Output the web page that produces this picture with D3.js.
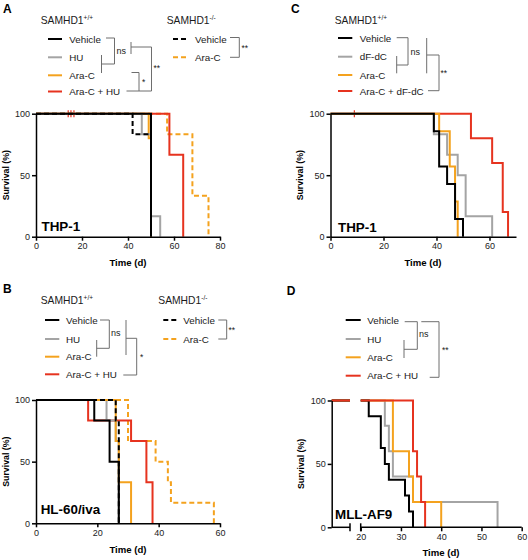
<!DOCTYPE html>
<html><head><meta charset="utf-8">
<script src="https://cdn.jsdelivr.net/npm/d3@7"></script>
<style>
body{margin:0;background:#fff}
text{font-family:Arial,"Liberation Sans",Helvetica,sans-serif}
</style>
</head><body>
<svg id="c" width="528" height="560"></svg>
<script>
// ---------------- DATA ----------------
// Panel A : THP-1 (time in days, survival in %)
const A_veh_t = [0, 50],            A_veh_s = [100, 0];
const A_hu_t = [0, 46, 50, 54],     A_hu_s = [100, 83.3, 16.7, 0];
const A_arac_t = [0, 49, 50],       A_arac_s = [100, 80, 0];
const A_combo_t = [0, 58, 64],      A_combo_s = [100, 66.7, 0];
const A_combo_censor = [14, 15.2, 16.5];
const A_koVeh_t = [0, 42, 50],      A_koVeh_s = [100, 83.3, 0];
const A_koArac_t = [0, 57, 68, 75], A_koArac_s = [100, 83.3, 33.3, 0];
const A_xticks = [0, 20, 40, 60, 80];

// Panel B : HL-60/iva
const B_veh_t = [0, 19, 24, 27],        B_veh_s = [100, 83.3, 50, 0];
const B_hu_t = [0, 23, 26, 27],         B_hu_s = [100, 83.3, 66.7, 0];
const B_arac_t = [0, 26, 27, 31],       B_arac_s = [100, 66.7, 33.3, 0];
const B_combo_t = [0, 17, 31, 36, 38],  B_combo_s = [100, 83.3, 66.7, 33.3, 0];
const B_koVeh_t = [0, 26, 27],          B_koVeh_s = [100, 83.3, 0];
const B_koArac_t = [0, 30, 39, 43, 44, 58], B_koArac_s = [100, 66.7, 50, 33.3, 16.7, 0];
const B_xticks = [0, 20, 40, 60];

// Panel C : THP-1 with dF-dC
const C_veh_t = [0, 39, 41, 44, 47, 50],  C_veh_s = [100, 85.7, 57.1, 42.9, 14.3, 0];
const C_dfdc_t = [0, 39, 44, 48, 51, 61], C_dfdc_s = [100, 83.3, 66.7, 50, 16.7, 0];
const C_arac_t = [0, 41, 45, 47, 48],     C_arac_s = [100, 85.7, 57.1, 28.6, 0];
const C_combo_t = [0, 53, 61, 65, 67],    C_combo_s = [100, 80, 60, 20, 0];
const C_combo_censor = [9];
const C_xticks = [0, 20, 40, 60];

// Panel D : MLL-AF9
const D_veh_t = [0, 22, 25, 26, 27, 31, 32, 33], D_veh_s = [100, 87.5, 62.5, 50, 37.5, 25, 12.5, 0];
const D_hu_t = [0, 26, 27, 28, 33, 54],          D_hu_s = [100, 80, 60, 40, 20, 0];
const D_arac_t = [0, 28, 32, 33, 40],            D_arac_s = [100, 60, 40, 20, 0];
const D_combo_t = [0, 33, 34, 35, 36],           D_combo_s = [100, 60, 40, 20, 0];
const D_xticks = [20, 30, 40, 50, 60];

const yTicks = [0, 50, 100];

// ---------------- STYLE ----------------
const BLACK = "#000000", GRAY = "#a4a4a4", ORANGE = "#f4a21e", RED = "#e6331f";
const BR = "#6e6e6e";
const svg = d3.select("#c");

function drawCurves(g, x, y, series) {
  const line = d3.line().x(d => x(d[0])).y(d => y(d[1])).curve(d3.curveStepAfter);
  series.forEach(sr => {
    const pts = sr.t.map((t, i) => [t, sr.s[i]]);
    g.append("path").attr("d", line(pts)).attr("fill", "none")
      .attr("stroke", sr.color).attr("stroke-width", 2)
      .attr("stroke-dasharray", sr.dash ? "5,3" : null);
    if (sr.censor) sr.censor.forEach(c => {
      g.append("line").attr("x1", x(c)).attr("x2", x(c))
        .attr("y1", y(100) - 3.5).attr("y2", y(100) + 3.5)
        .attr("stroke", sr.color).attr("stroke-width", 1.2);
    });
  });
}

function styleAxis(sel) {
  sel.selectAll("path,line").attr("stroke", "#000").attr("stroke-width", 1.5);
  sel.selectAll("text").attr("font-size", 9).attr("fill", "#222")
    .attr("font-family", "Arial, 'Liberation Sans', sans-serif");
}

function axes(x, y, xticks) {
  const gy = svg.append("g").attr("transform", `translate(${x.range()[0]},0)`)
    .call(d3.axisLeft(y).tickValues(yTicks).tickSize(4).tickSizeOuter(0).tickPadding(2));
  styleAxis(gy);
  const gx = svg.append("g").attr("transform", `translate(0,${y(0)})`)
    .call(d3.axisBottom(x).tickValues(xticks).tickSize(4).tickSizeOuter(0).tickPadding(2));
  styleAxis(gx);
  return gx;
}

function axisTitles(cx, y, yLabelX, timeY) {
  svg.append("text").attr("x", cx).attr("y", timeY).attr("text-anchor", "middle")
    .attr("font-size", 9.6).attr("font-weight", "bold").text("Time (d)");
  const my = (y(0) + y(100)) / 2;
  svg.append("text").attr("transform", `translate(${yLabelX},${my}) rotate(-90)`)
    .attr("text-anchor", "middle").attr("font-size", 8.8).attr("font-weight", "bold")
    .text("Survival (%)");
}

function cellLabel(x, y, txt) {
  svg.append("text").attr("x", x).attr("y", y).attr("font-size", 13.4)
    .attr("font-weight", "bold").text(txt);
}

function panelLetter(x, y, l) {
  svg.append("text").attr("x", x).attr("y", y).attr("font-size", 12)
    .attr("font-weight", "bold").text(l);
}

function header(x, y, sup) {
  const t = svg.append("text").attr("x", x).attr("y", y).attr("font-size", 10.3).attr("fill", "#1a1a1a");
  t.append("tspan").text("SAMHD1");
  t.append("tspan").attr("dy", -4).attr("font-size", 6.5).text(sup);
}

function legendRow(x1, x2, y, color, dash, label, tx) {
  svg.append("line").attr("x1", x1).attr("x2", x2).attr("y1", y).attr("y2", y)
    .attr("stroke", color).attr("stroke-width", 2).attr("stroke-dasharray", dash ? "5,3" : null);
  svg.append("text").attr("x", tx).attr("y", y + 3.6).attr("font-size", 9.8)
    .attr("fill", "#1a1a1a").text(label);
}

function bracket(d) {
  svg.append("path").attr("d", d).attr("fill", "none").attr("stroke", BR).attr("stroke-width", 1);
}
function sig(x, y, s) {
  svg.append("text").attr("x", x).attr("y", y).attr("font-size", s === "ns" ? 9 : 8.5)
    .attr("fill", "#1a1a1a").text(s);
}

// ---------------- PANEL A ----------------
{
  const x = d3.scaleLinear().domain([0, 80]).range([36, 220]);
  const y = d3.scaleLinear().domain([0, 100]).range([236.7, 113.7]);
  const g = svg.append("g");
  drawCurves(g, x, y, [
    {t: A_koArac_t, s: A_koArac_s, color: ORANGE, dash: true},
    {t: A_combo_t, s: A_combo_s, color: RED, censor: A_combo_censor},
    {t: A_arac_t, s: A_arac_s, color: ORANGE},
    {t: A_hu_t, s: A_hu_s, color: GRAY},
    {t: A_koVeh_t, s: A_koVeh_s, color: BLACK, dash: true},
    {t: A_veh_t, s: A_veh_s, color: BLACK}
  ]);
  axes(x, y, A_xticks);
  axisTitles(128, y, 8.6, 266);
  cellLabel(41.5, 231, "THP-1");

  panelLetter(3, 12.5, "A");
  header(40.7, 24, "+/+");
  const rows = [39, 57.3, 75.3, 91.5];
  legendRow(48, 62, rows[0], BLACK, false, "Vehicle", 69.3);
  legendRow(48, 62, rows[1], GRAY, false, "HU", 69.3);
  legendRow(48, 62, rows[2], ORANGE, false, "Ara-C", 69.3);
  legendRow(48, 62, rows[3], RED, false, "Ara-C + HU", 69.3);
  bracket("M106,38H114.5V64M101.5,55V73M101.5,64H114.5");
  sig(116.5, 54, "ns");
  bracket("M131,42V54M131,47H151.5V91H126.5");
  sig(153.5, 71, "**");
  bracket("M131.5,72.5H139V91");
  sig(142, 85, "*");
  header(166.7, 24, "-/-");
  legendRow(173, 188, rows[0], BLACK, true, "Vehicle", 195);
  legendRow(173, 188, rows[1], ORANGE, true, "Ara-C", 195);
  bracket("M230,37.5H239.3V57.3H230");
  sig(241.5, 51, "**");
}

// ---------------- PANEL C ----------------
{
  const x = d3.scaleLinear().domain([0, 70]).range([330.5, 516]);
  const y = d3.scaleLinear().domain([0, 100]).range([236.7, 113.7]);
  const g = svg.append("g");
  drawCurves(g, x, y, [
    {t: C_combo_t, s: C_combo_s, color: RED, censor: C_combo_censor},
    {t: C_dfdc_t, s: C_dfdc_s, color: GRAY},
    {t: C_arac_t, s: C_arac_s, color: ORANGE},
    {t: C_veh_t, s: C_veh_s, color: BLACK}
  ]);
  axes(x, y, C_xticks);
  axisTitles(423, y, 303.4, 266);
  cellLabel(338, 232, "THP-1");

  panelLetter(291, 12.5, "C");
  header(334.7, 24, "+/+");
  const rows = [38, 56.7, 75, 91];
  legendRow(338, 352.3, rows[0], BLACK, false, "Vehicle", 359.7);
  legendRow(338, 352.3, rows[1], GRAY, false, "dF-dC", 359.7);
  legendRow(338, 352.3, rows[2], ORANGE, false, "Ara-C", 359.7);
  legendRow(338, 352.3, rows[3], RED, false, "Ara-C + dF-dC", 359.7);
  bracket("M396.7,37.7H408V65M396.7,56V73.3M396.7,65H408");
  sig(410.5, 55, "ns");
  bracket("M426.7,38V73.3M426.7,55H439V90.7H428");
  sig(440.5, 76, "**");
}

// ---------------- PANEL B ----------------
{
  const x = d3.scaleLinear().domain([0, 60]).range([36, 220]);
  const y = d3.scaleLinear().domain([0, 100]).range([523.3, 400]);
  const g = svg.append("g");
  drawCurves(g, x, y, [
    {t: B_koArac_t, s: B_koArac_s, color: ORANGE, dash: true},
    {t: B_combo_t, s: B_combo_s, color: RED},
    {t: B_hu_t, s: B_hu_s, color: GRAY},
    {t: B_arac_t, s: B_arac_s, color: ORANGE},
    {t: B_veh_t, s: B_veh_s, color: BLACK},
    {t: B_koVeh_t, s: B_koVeh_s, color: BLACK, dash: true}
  ]);
  axes(x, y, B_xticks);
  axisTitles(128, y, 8.6, 552.5);
  cellLabel(40.7, 514, "HL-60/iva");

  panelLetter(3, 293, "B");
  header(40.7, 303.5, "+/+");
  const rows = [320, 339, 356.7, 374.3];
  legendRow(45, 59.3, rows[0], BLACK, false, "Vehicle", 66);
  legendRow(45, 59.3, rows[1], GRAY, false, "HU", 66);
  legendRow(45, 59.3, rows[2], ORANGE, false, "Ara-C", 66);
  legendRow(45, 59.3, rows[3], RED, false, "Ara-C + HU", 66);
  bracket("M100,320H109.3V348.3M96.7,340V356.7M96.7,348.3H109.3");
  sig(111, 336, "ns");
  bracket("M126,320V355M126,338.3H136.7V375H123.3");
  sig(140, 360, "*");
  header(158.3, 303.5, "-/-");
  legendRow(163.3, 176.7, rows[0], BLACK, true, "Vehicle", 183.3);
  legendRow(163.3, 176.7, rows[1], ORANGE, true, "Ara-C", 183.3);
  bracket("M218.3,320H226.7V339H218.3");
  sig(228.5, 333, "**");
}

// ---------------- PANEL D ----------------
{
  const breakStart = 16, breakEnd = 20;
  const x = d3.scaleLinear().domain([0, breakStart, breakEnd, 60]).range([331.7, 350, 360.7, 521.7]);
  const y = d3.scaleLinear().domain([0, 100]).range([527.3, 400.5]);
  const clip = svg.append("clipPath").attr("id", "clipD");
  clip.append("rect").attr("x", 0).attr("y", 380).attr("width", x(breakStart)).attr("height", 160);
  clip.append("rect").attr("x", x(breakEnd)).attr("y", 380).attr("width", 528 - x(breakEnd)).attr("height", 160);
  const g = svg.append("g").attr("clip-path", "url(#clipD)");
  drawCurves(g, x, y, [
    {t: D_hu_t, s: D_hu_s, color: GRAY},
    {t: D_arac_t, s: D_arac_s, color: ORANGE},
    {t: D_veh_t, s: D_veh_s, color: BLACK},
    {t: D_combo_t, s: D_combo_s, color: RED}
  ]);
  const gy = svg.append("g").attr("transform", `translate(${x(0)},0)`)
    .call(d3.axisLeft(y).tickValues(yTicks).tickSize(4).tickSizeOuter(0).tickPadding(2));
  styleAxis(gy);
  const gx = svg.append("g").attr("transform", `translate(0,${y(0)})`)
    .call(d3.axisBottom(x).tickValues(D_xticks).tickSize(4).tickSizeOuter(0).tickPadding(2));
  gx.select(".domain").remove();
  styleAxis(gx);
  const ax = svg.append("g").attr("stroke", "#000").attr("stroke-width", 1.5);
  ax.append("line").attr("x1", x(0)).attr("x2", x(breakStart)).attr("y1", y(0)).attr("y2", y(0));
  ax.append("line").attr("x1", x(breakEnd)).attr("x2", x(60)).attr("y1", y(0)).attr("y2", y(0));
  [breakStart, breakEnd].forEach(b => ax.append("line").attr("x1", x(b)).attr("x2", x(b))
    .attr("y1", y(0) - 4).attr("y2", y(0) + 4));
  axisTitles(441, y, 303.6, 555.5);
  cellLabel(335, 518.5, "MLL-AF9");

  panelLetter(286.7, 295, "D");
  const rows = [320, 339, 357.3, 375.7];
  legendRow(345.7, 360.7, rows[0], BLACK, false, "Vehicle", 367.3);
  legendRow(345.7, 360.7, rows[1], GRAY, false, "HU", 367.3);
  legendRow(345.7, 360.7, rows[2], ORANGE, false, "Ara-C", 367.3);
  legendRow(345.7, 360.7, rows[3], RED, false, "Ara-C + HU", 367.3);
  bracket("M404.7,321.7H417.3V349.3M404,340V358M404,349.3H417.3");
  sig(419, 337, "ns");
  bracket("M421.3,321.7H439V377.3H429.7");
  sig(442, 353, "**");
}
</script>
</body></html>
